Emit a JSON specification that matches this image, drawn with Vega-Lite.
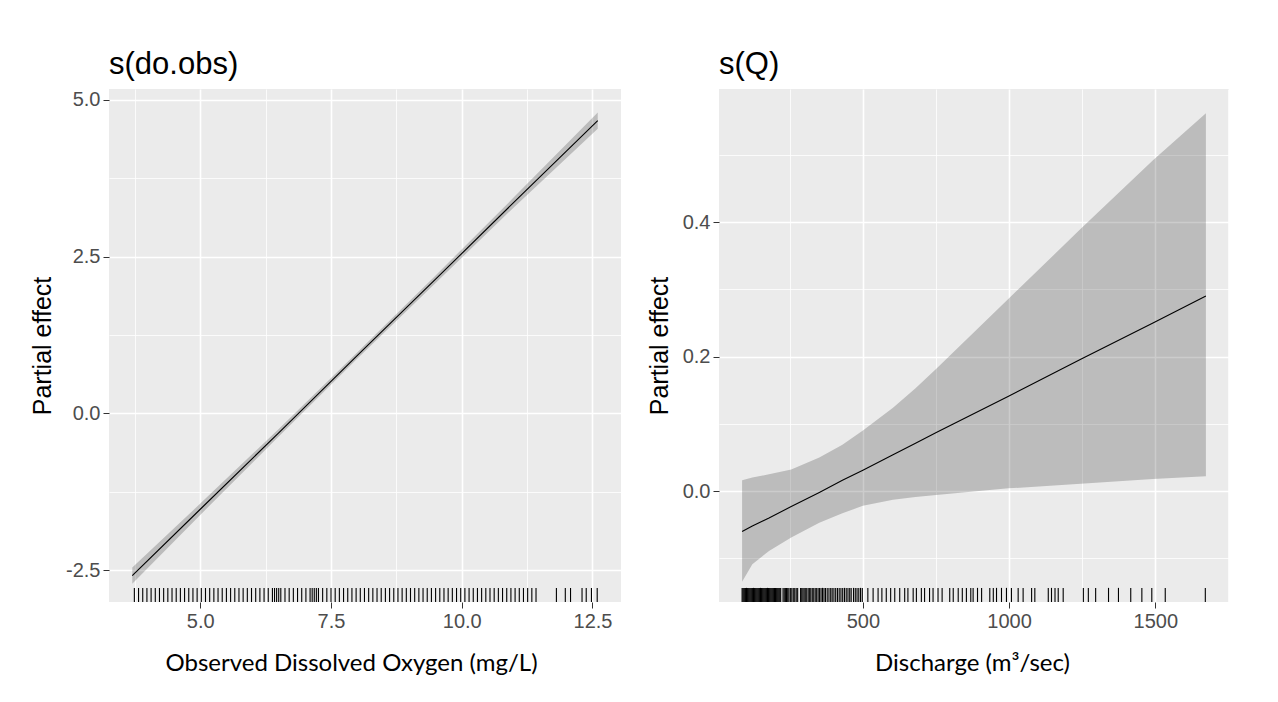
{
  "$schema": "https://vega.github.io/schema/vega-lite/v6.json",
  "background": "white",
  "padding": {"left": 30, "top": 49, "right": 10, "bottom": 5},
  "spacing": 26,
  "config": {
    "view": {"fill": "#EBEBEB", "stroke": null},
    "axis": {
      "domain": false,
      "grid": true,
      "gridColor": "#FFFFFF",
      "labelFont": "Liberation Sans",
      "labelFontSize": 20,
      "labelColor": "#4D4D4D",
      "labelPadding": 3,
      "tickColor": "#333333",
      "tickSize": 6,
      "titleFont": "Liberation Sans",
      "titleFontWeight": "normal",
      "titleColor": "#000000"
    },
    "axisX": {"titleFont": "Lato", "titleFontSize": 24, "titlePadding": 20},
    "axisY": {"titleFontSize": 25, "titlePadding": 10},
    "title": {"anchor": "start", "frame": "group", "font": "Liberation Sans", "fontSize": 31, "fontWeight": "normal", "color": "#000000", "offset": 8}
  },
  "datasets": {
    "do_fit": [
      {"do": 3.7, "fit": -2.59, "lower": -2.72, "upper": -2.46},
      {"do": 5.0, "fit": -1.53, "lower": -1.62, "upper": -1.44},
      {"do": 6.5, "fit": -0.31, "lower": -0.37, "upper": -0.25},
      {"do": 8.0, "fit": 0.92, "lower": 0.87, "upper": 0.97},
      {"do": 9.5, "fit": 2.14, "lower": 2.08, "upper": 2.2},
      {"do": 11.0, "fit": 3.37, "lower": 3.29, "upper": 3.45},
      {"do": 12.6, "fit": 4.67, "lower": 4.54, "upper": 4.8}
    ],
    "do_rug": [
      {"do": 3.74}, {"do": 3.82}, {"do": 3.90}, {"do": 3.98}, {"do": 4.06}, {"do": 4.14}, {"do": 4.22}, {"do": 4.30}, {"do": 4.38}, {"do": 4.46},
      {"do": 4.54}, {"do": 4.62}, {"do": 4.70}, {"do": 4.78}, {"do": 4.86}, {"do": 4.94}, {"do": 5.02}, {"do": 5.10}, {"do": 5.18}, {"do": 5.26},
      {"do": 5.34}, {"do": 5.42}, {"do": 5.50}, {"do": 5.58}, {"do": 5.66}, {"do": 5.74}, {"do": 5.82}, {"do": 5.90}, {"do": 5.98}, {"do": 6.06},
      {"do": 6.14}, {"do": 6.22}, {"do": 6.30}, {"do": 6.38}, {"do": 6.42}, {"do": 6.46}, {"do": 6.50}, {"do": 6.54}, {"do": 6.62}, {"do": 6.70},
      {"do": 6.78}, {"do": 6.86}, {"do": 6.94}, {"do": 7.02}, {"do": 7.10}, {"do": 7.14}, {"do": 7.18}, {"do": 7.22}, {"do": 7.26}, {"do": 7.34},
      {"do": 7.42}, {"do": 7.50}, {"do": 7.58}, {"do": 7.66}, {"do": 7.74}, {"do": 7.82}, {"do": 7.90}, {"do": 7.98}, {"do": 8.06}, {"do": 8.14},
      {"do": 8.22}, {"do": 8.30}, {"do": 8.38}, {"do": 8.46}, {"do": 8.54}, {"do": 8.62}, {"do": 8.70}, {"do": 8.78}, {"do": 8.86}, {"do": 8.94},
      {"do": 9.02}, {"do": 9.10}, {"do": 9.18}, {"do": 9.26}, {"do": 9.34}, {"do": 9.42}, {"do": 9.50}, {"do": 9.58}, {"do": 9.66}, {"do": 9.74},
      {"do": 9.82}, {"do": 9.90}, {"do": 9.98}, {"do": 10.06}, {"do": 10.14}, {"do": 10.22}, {"do": 10.30}, {"do": 10.38}, {"do": 10.46}, {"do": 10.54},
      {"do": 10.62}, {"do": 10.70}, {"do": 10.78}, {"do": 10.86}, {"do": 10.94}, {"do": 11.02}, {"do": 11.10}, {"do": 11.18}, {"do": 11.26}, {"do": 11.34},
      {"do": 11.42}, {"do": 11.81}, {"do": 11.98}, {"do": 12.08}, {"do": 12.30}, {"do": 12.38}, {"do": 12.48}, {"do": 12.59}
    ],
    "q_fit": [
      {"Q": 87, "fit": -0.060, "lower": -0.135, "upper": 0.016},
      {"Q": 122, "fit": -0.052, "lower": -0.109, "upper": 0.020},
      {"Q": 179, "fit": -0.040, "lower": -0.089, "upper": 0.025},
      {"Q": 255, "fit": -0.023, "lower": -0.069, "upper": 0.032},
      {"Q": 351, "fit": -0.002, "lower": -0.047, "upper": 0.050},
      {"Q": 430, "fit": 0.016, "lower": -0.033, "upper": 0.069},
      {"Q": 500, "fit": 0.031, "lower": -0.022, "upper": 0.090},
      {"Q": 603, "fit": 0.054, "lower": -0.013, "upper": 0.124},
      {"Q": 680, "fit": 0.071, "lower": -0.009, "upper": 0.153},
      {"Q": 751, "fit": 0.087, "lower": -0.006, "upper": 0.182},
      {"Q": 998, "fit": 0.141, "lower": 0.004, "upper": 0.286},
      {"Q": 1245, "fit": 0.196, "lower": 0.011, "upper": 0.390},
      {"Q": 1492, "fit": 0.250, "lower": 0.018, "upper": 0.492},
      {"Q": 1673, "fit": 0.290, "lower": 0.022, "upper": 0.562}
    ],
    "q_rug": [
      {"Q": 87}, {"Q": 90}, {"Q": 93}, {"Q": 96}, {"Q": 99}, {"Q": 102}, {"Q": 105}, {"Q": 108}, {"Q": 111}, {"Q": 114},
      {"Q": 117}, {"Q": 120}, {"Q": 123}, {"Q": 126}, {"Q": 129}, {"Q": 132}, {"Q": 135}, {"Q": 138}, {"Q": 141}, {"Q": 144},
      {"Q": 147}, {"Q": 150}, {"Q": 153}, {"Q": 156}, {"Q": 159}, {"Q": 162}, {"Q": 165}, {"Q": 168}, {"Q": 171}, {"Q": 174},
      {"Q": 177}, {"Q": 180}, {"Q": 183}, {"Q": 186}, {"Q": 189}, {"Q": 192}, {"Q": 195}, {"Q": 198}, {"Q": 201}, {"Q": 204},
      {"Q": 207}, {"Q": 210}, {"Q": 213}, {"Q": 216}, {"Q": 219},
      {"Q": 227}, {"Q": 231}, {"Q": 235}, {"Q": 239}, {"Q": 243}, {"Q": 247}, {"Q": 252}, {"Q": 257}, {"Q": 262}, {"Q": 267}, {"Q": 272}, {"Q": 277},
      {"Q": 287}, {"Q": 291}, {"Q": 295}, {"Q": 299}, {"Q": 303}, {"Q": 308}, {"Q": 313}, {"Q": 318}, {"Q": 322}, {"Q": 327},
      {"Q": 332}, {"Q": 337}, {"Q": 342}, {"Q": 347}, {"Q": 352}, {"Q": 357}, {"Q": 362}, {"Q": 367}, {"Q": 372}, {"Q": 378},
      {"Q": 384}, {"Q": 390}, {"Q": 395}, {"Q": 401}, {"Q": 407}, {"Q": 413}, {"Q": 419}, {"Q": 425}, {"Q": 431}, {"Q": 437},
      {"Q": 443}, {"Q": 449}, {"Q": 455}, {"Q": 460}, {"Q": 468}, {"Q": 474}, {"Q": 480}, {"Q": 486}, {"Q": 492}, {"Q": 498},
      {"Q": 517}, {"Q": 535}, {"Q": 552}, {"Q": 565}, {"Q": 580}, {"Q": 595}, {"Q": 609}, {"Q": 626}, {"Q": 643}, {"Q": 654},
      {"Q": 672}, {"Q": 683}, {"Q": 700}, {"Q": 711}, {"Q": 728}, {"Q": 740}, {"Q": 757}, {"Q": 771}, {"Q": 797}, {"Q": 809},
      {"Q": 826}, {"Q": 840}, {"Q": 854}, {"Q": 869}, {"Q": 877}, {"Q": 892}, {"Q": 906}, {"Q": 934}, {"Q": 946}, {"Q": 957},
      {"Q": 974}, {"Q": 991}, {"Q": 1008}, {"Q": 1031}, {"Q": 1048}, {"Q": 1077}, {"Q": 1088}, {"Q": 1134}, {"Q": 1145}, {"Q": 1157},
      {"Q": 1168}, {"Q": 1185}, {"Q": 1254}, {"Q": 1271}, {"Q": 1296}, {"Q": 1340}, {"Q": 1374}, {"Q": 1416}, {"Q": 1454}, {"Q": 1488},
      {"Q": 1534}, {"Q": 1671}
    ]
  },
  "hconcat": [
    {
      "width": 512,
      "height": 513,
      "title": {"text": "s(do.obs)"},
      "encoding": {
        "x": {
          "field": "do",
          "type": "quantitative",
          "title": "Observed Dissolved Oxygen (mg/L)",
          "scale": {"domain": [3.255, 13.045], "nice": false, "zero": false},
          "axis": {
            "values": [3.75, 5, 6.25, 7.5, 8.75, 10, 11.25, 12.5],
            "labelExpr": "datum.value % 2.5 === 0 ? format(datum.value, '.1f') : ''",
            "gridWidth": {"condition": {"test": "datum.value % 2.5 === 0", "value": 1.6}, "value": 0.8},
            "tickOpacity": {"condition": {"test": "datum.value % 2.5 === 0", "value": 1}, "value": 0},
            "titleX": 242
          }
        }
      },
      "layer": [
        {
          "data": {"name": "do_fit"},
          "mark": {"type": "area", "color": "#000000", "opacity": 0.2},
          "encoding": {
            "y": {
              "field": "lower",
              "type": "quantitative",
              "title": "Partial effect",
              "scale": {"domain": [-3.01, 5.175], "nice": false, "zero": false},
              "axis": {
                "values": [-2.5, -1.25, 0, 1.25, 2.5, 3.75, 5],
                "labelExpr": "datum.value % 2.5 === 0 ? (datum.value < 0 ? '-' + format(-datum.value, '.1f') : format(datum.value, '.1f')) : ''",
                "gridWidth": {"condition": {"test": "datum.value % 2.5 === 0", "value": 1.6}, "value": 0.8},
                "tickOpacity": {"condition": {"test": "datum.value % 2.5 === 0", "value": 1}, "value": 0}
              }
            },
            "y2": {"field": "upper"}
          }
        },
        {
          "data": {"name": "do_fit"},
          "mark": {"type": "line", "color": "#000000", "strokeWidth": 1.1},
          "encoding": {"y": {"field": "fit", "type": "quantitative", "title": "Partial effect"}}
        },
        {
          "data": {"name": "do_rug"},
          "mark": {"type": "rule", "color": "#000000", "strokeWidth": 1.1, "opacity": 1},
          "encoding": {
            "y": {"datum": -3.01, "type": "quantitative", "title": "Partial effect"},
            "y2": {"datum": -2.787}
          }
        }
      ]
    },
    {
      "width": 510,
      "height": 513,
      "title": {"text": "s(Q)"},
      "encoding": {
        "x": {
          "field": "Q",
          "type": "quantitative",
          "title": "Discharge (m³/sec)",
          "scale": {"domain": [8, 1752], "nice": false, "zero": false},
          "axis": {
            "values": [250, 500, 750, 1000, 1250, 1500, 1750],
            "labelExpr": "datum.value % 500 === 0 ? format(datum.value, 'd') : ''",
            "gridWidth": {"condition": {"test": "datum.value % 500 === 0", "value": 1.6}, "value": 0.8},
            "tickOpacity": {"condition": {"test": "datum.value % 500 === 0", "value": 1}, "value": 0},
            "titleX": 253
          }
        }
      },
      "layer": [
        {
          "data": {"name": "q_fit"},
          "mark": {"type": "area", "color": "#000000", "opacity": 0.2},
          "encoding": {
            "y": {
              "field": "lower",
              "type": "quantitative",
              "title": "Partial effect",
              "scale": {"domain": [-0.165, 0.598], "nice": false, "zero": false},
              "axis": {
                "values": [-0.1, 0, 0.1, 0.2, 0.3, 0.4, 0.5],
                "labelExpr": "abs(round(datum.value * 10)) % 2 === 0 ? format(datum.value, '.1f') : ''",
                "gridWidth": {"condition": {"test": "abs(round(datum.value * 10)) % 2 === 0", "value": 1.6}, "value": 0.8},
                "tickOpacity": {"condition": {"test": "abs(round(datum.value * 10)) % 2 === 0", "value": 1}, "value": 0}
              }
            },
            "y2": {"field": "upper"}
          }
        },
        {
          "data": {"name": "q_fit"},
          "mark": {"type": "line", "color": "#000000", "strokeWidth": 1.1},
          "encoding": {"y": {"field": "fit", "type": "quantitative", "title": "Partial effect"}}
        },
        {
          "data": {"name": "q_rug"},
          "mark": {"type": "rule", "color": "#000000", "strokeWidth": 1.1, "opacity": 1},
          "encoding": {
            "y": {"datum": -0.165, "type": "quantitative", "title": "Partial effect"},
            "y2": {"datum": -0.144}
          }
        }
      ]
    }
  ]
}
